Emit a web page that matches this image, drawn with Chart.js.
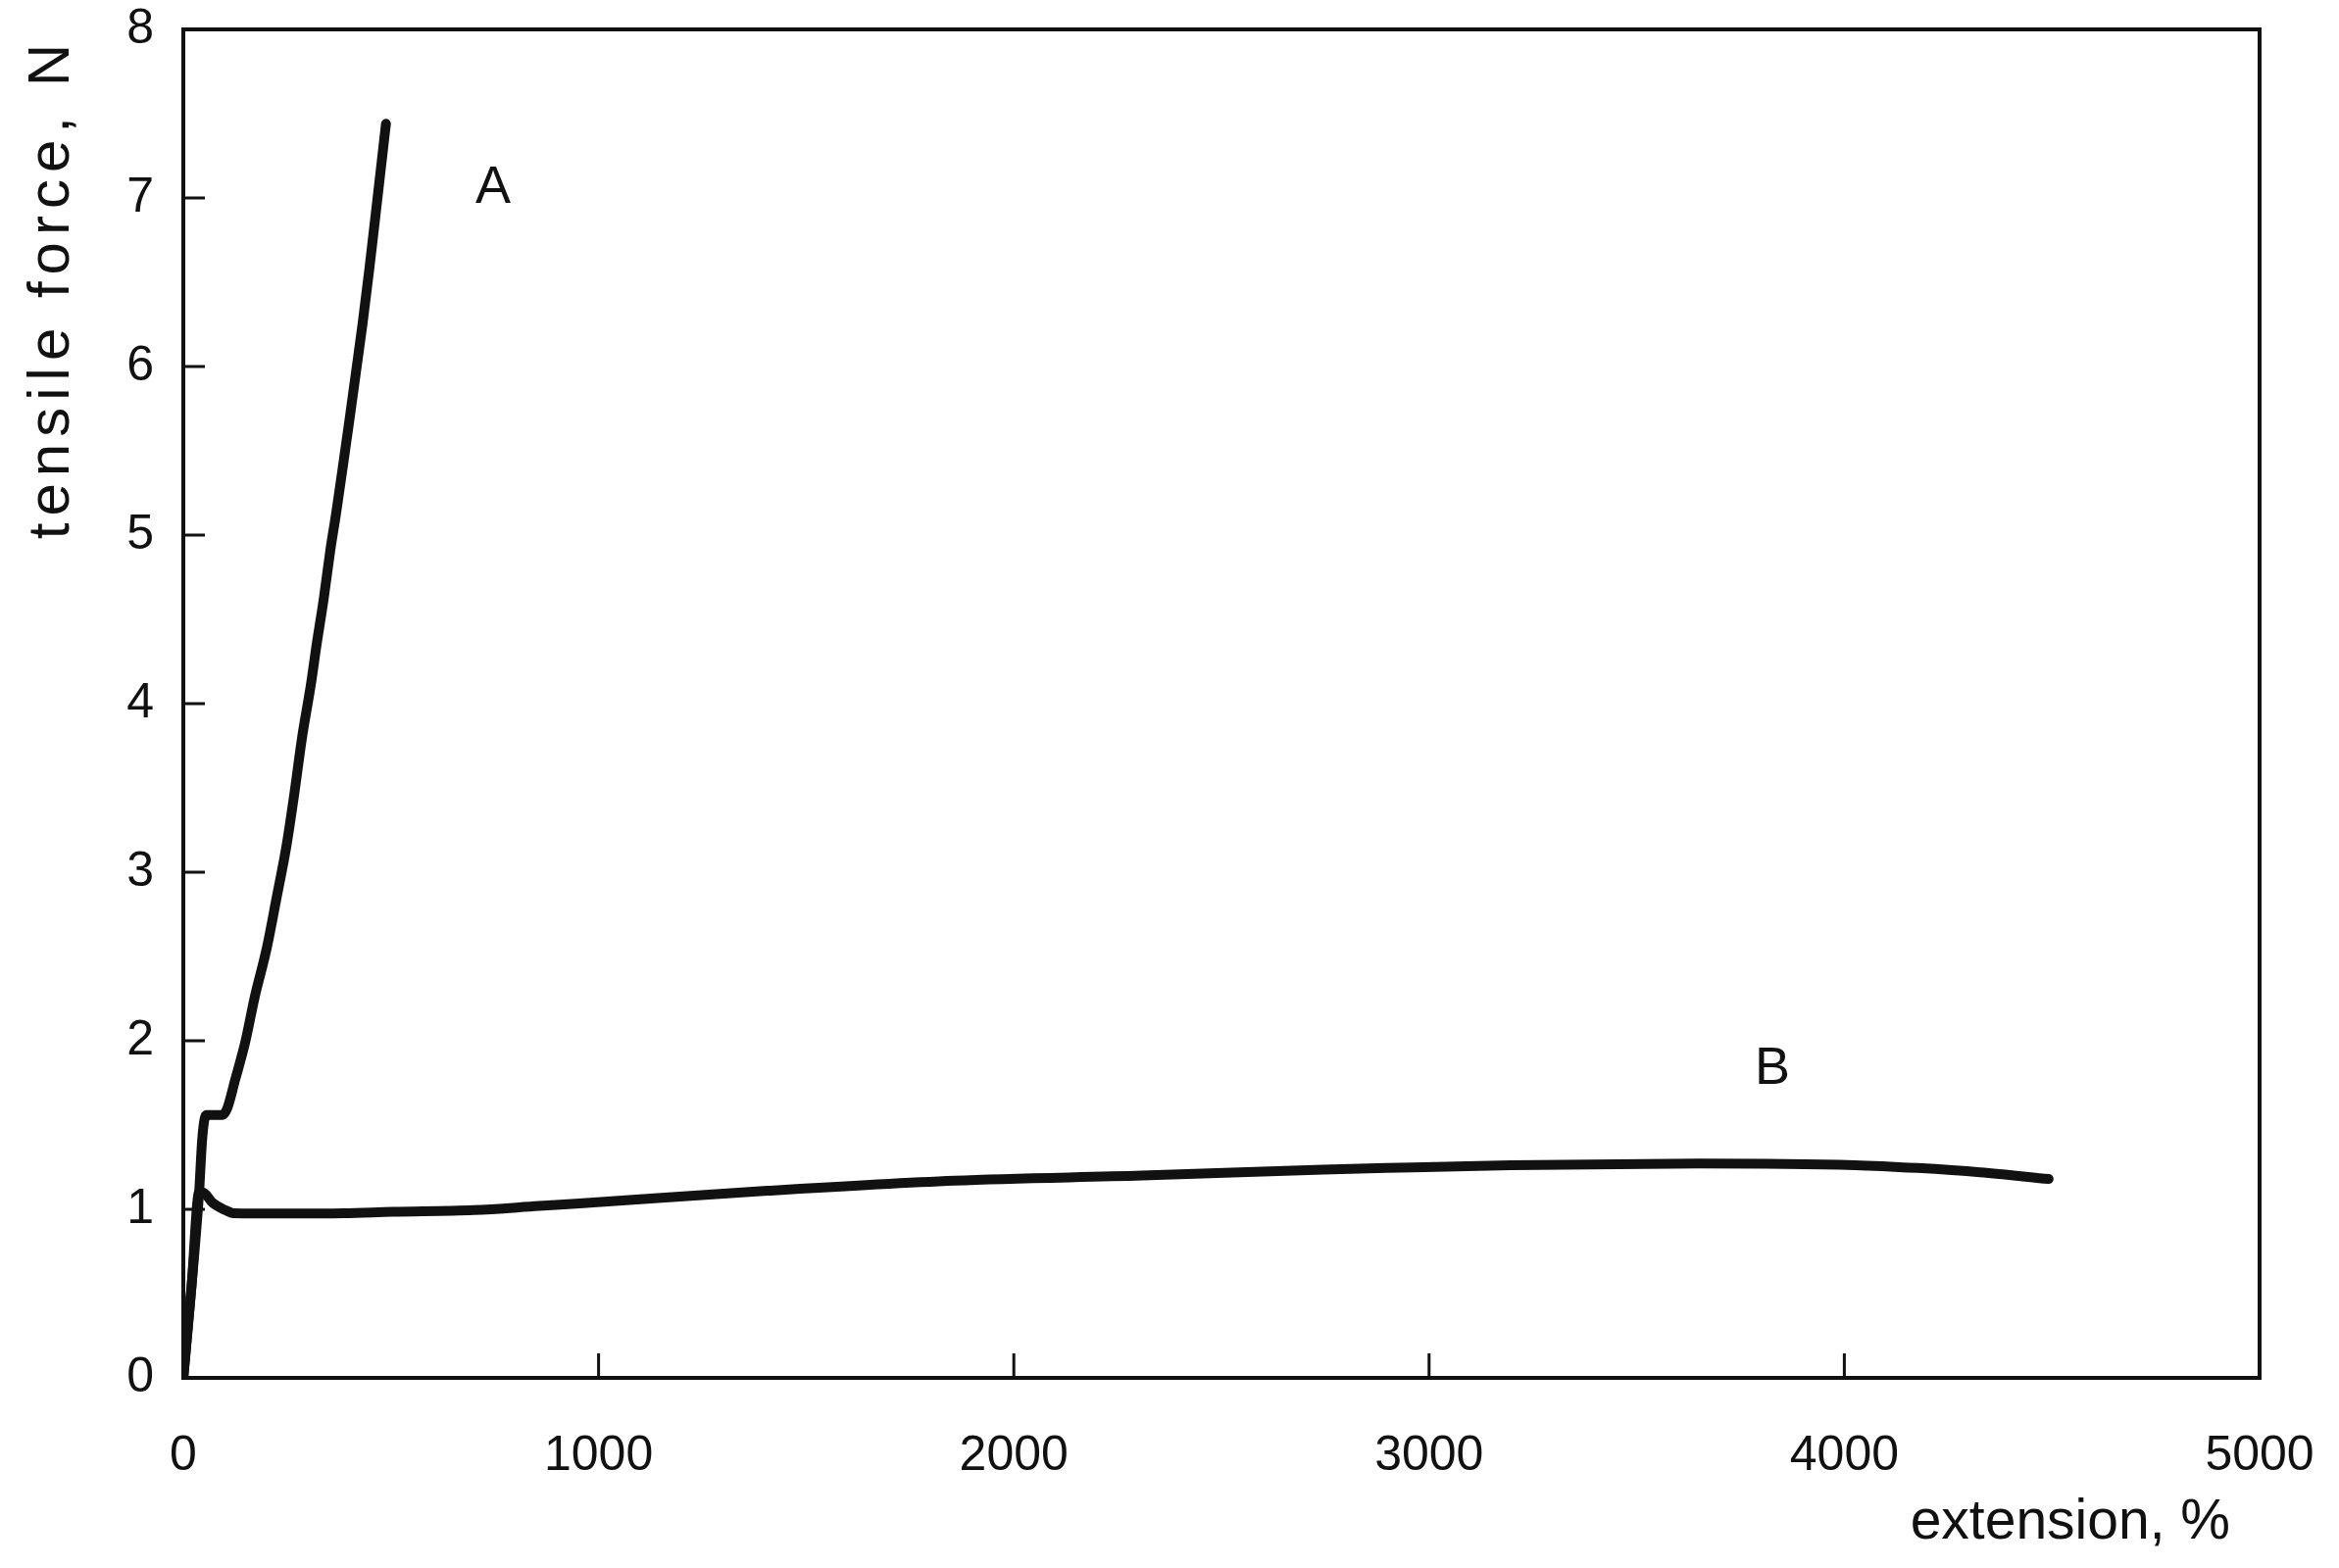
<!DOCTYPE html>
<html>
<head>
<meta charset="utf-8">
<script src="https://cdn.jsdelivr.net/npm/chart.js@4"></script>
<style>
  html, body { margin: 0; padding: 0; background: #ffffff; }
  #wrap { width: 2386px; height: 1600px; position: relative; }
</style>
</head>
<body>
<div id="wrap"><canvas id="chart"></canvas></div>
<script>
// extension (%) / tensile force (N)
const extensionA = [0, 20, 38, 45, 50, 56, 95, 106, 125, 149, 172, 201, 224, 248, 267, 286, 307, 321, 338, 354, 368, 385, 401, 416, 432, 448, 463, 476, 488];
const forceA = [0, 0.55, 1.1, 1.4, 1.52, 1.56, 1.56, 1.6, 1.77, 1.99, 2.26, 2.55, 2.84, 3.15, 3.46, 3.8, 4.11, 4.35, 4.62, 4.91, 5.13, 5.42, 5.7, 5.97, 6.26, 6.58, 6.9, 7.18, 7.44];

const extensionB = [0, 20, 38, 47, 70, 101, 121, 250, 385, 503, 699, 857, 954, 1407, 1858, 2309, 2745, 2897, 3197, 3649, 4025, 4176, 4327, 4492];
const forceB = [0, 0.55, 1.1, 1.1, 1.04, 0.995, 0.977, 0.975, 0.977, 0.985, 0.995, 1.02, 1.035, 1.11, 1.17, 1.2, 1.235, 1.245, 1.262, 1.272, 1.262, 1.245, 1.22, 1.18];

const xTicks = [0, 1000, 2000, 3000, 4000, 5000];
const yTicks = [0, 1, 2, 3, 4, 5, 6, 7, 8];

const curveLabels = [
  { text: 'A', x: 746, y: 7.06 },
  { text: 'B', x: 3827, y: 1.83 }
];
const xTitle = 'extension, %';
const yTitle = 'tensile force, N';

const INK = '#111111';
const FONT = "'Liberation Sans', Arial, sans-serif";

function toPoints(xs, ys) {
  return xs.map((x, i) => ({ x, y: ys[i] }));
}

// keep the plot box where the layout padding puts it
function fixBox(scale, size) {
  if (scale.isHorizontal()) scale.height = size;
  else scale.width = size;
  scale.paddingTop = 0;
  scale.paddingBottom = 0;
  scale.paddingLeft = 0;
  scale.paddingRight = 0;
}

// frame, inward ticks, curve letters and axis titles
const paperPlugin = {
  id: 'paper',
  afterDraw(chart) {
    const { ctx, chartArea: area, scales } = chart;
    ctx.save();
    ctx.strokeStyle = INK;
    ctx.lineWidth = 4;
    ctx.strokeRect(area.left, area.top, area.right - area.left, area.bottom - area.top);

    ctx.lineWidth = 3;
    ctx.beginPath();
    xTicks.slice(1, -1).forEach((v) => {
      const px = scales.x.getPixelForValue(v);
      ctx.moveTo(px, area.bottom);
      ctx.lineTo(px, area.bottom - 25);
    });
    yTicks.slice(1, -1).forEach((v) => {
      const py = scales.y.getPixelForValue(v);
      ctx.moveTo(area.left, py);
      ctx.lineTo(area.left + 22, py);
    });
    ctx.stroke();

    ctx.fillStyle = INK;
    ctx.font = `54px ${FONT}`;
    ctx.textAlign = 'center';
    ctx.textBaseline = 'middle';
    curveLabels.forEach((label) => {
      ctx.fillText(label.text, scales.x.getPixelForValue(label.x), scales.y.getPixelForValue(label.y));
    });

    ctx.font = `57px ${FONT}`;
    ctx.textAlign = 'right';
    ctx.textBaseline = 'alphabetic';
    ctx.fillText(xTitle, area.right - 30, 1570);

    ctx.font = `60px ${FONT}`;
    ctx.translate(70, area.top + 8);
    ctx.rotate(-Math.PI / 2);
    ctx.letterSpacing = '7px';
    ctx.textAlign = 'right';
    ctx.fillText(yTitle, 0, 0);
    ctx.restore();
  }
};

const lineStyle = {
  borderColor: INK,
  borderWidth: 10,
  pointRadius: 0,
  showLine: true,
  fill: false,
  cubicInterpolationMode: 'monotone',
  borderCapStyle: 'round',
  borderJoinStyle: 'round'
};

new Chart(document.getElementById('chart').getContext('2d'), {
  type: 'scatter',
  data: {
    datasets: [
      { label: 'A', data: toPoints(extensionA, forceA), ...lineStyle },
      { label: 'B', data: toPoints(extensionB, forceB), ...lineStyle }
    ]
  },
  options: {
    responsive: true,
    maintainAspectRatio: false,
    animation: false,
    layout: { padding: { top: 30, right: 81, bottom: 0, left: 0 } },
    plugins: {
      legend: { display: false },
      tooltip: { enabled: false }
    },
    scales: {
      x: {
        type: 'linear',
        min: 0,
        max: 5000,
        afterFit(scale) { fixBox(scale, 194); },
        afterBuildTicks(scale) { scale.ticks = xTicks.map((value) => ({ value })); },
        grid: { display: false },
        border: { display: false },
        ticks: {
          color: INK,
          padding: 42,
          maxRotation: 0,
          font: { family: FONT, size: 50 },
          callback(value) { return String(value); }
        }
      },
      y: {
        type: 'linear',
        min: 0,
        max: 8,
        afterFit(scale) { fixBox(scale, 187); },
        afterBuildTicks(scale) { scale.ticks = yTicks.map((value) => ({ value })); },
        grid: { display: false },
        border: { display: false },
        ticks: {
          color: INK,
          padding: 22,
          font: { family: FONT, size: 50 },
          callback(value) { return String(value); }
        }
      }
    }
  },
  plugins: [paperPlugin]
});
</script>
</body>
</html>
